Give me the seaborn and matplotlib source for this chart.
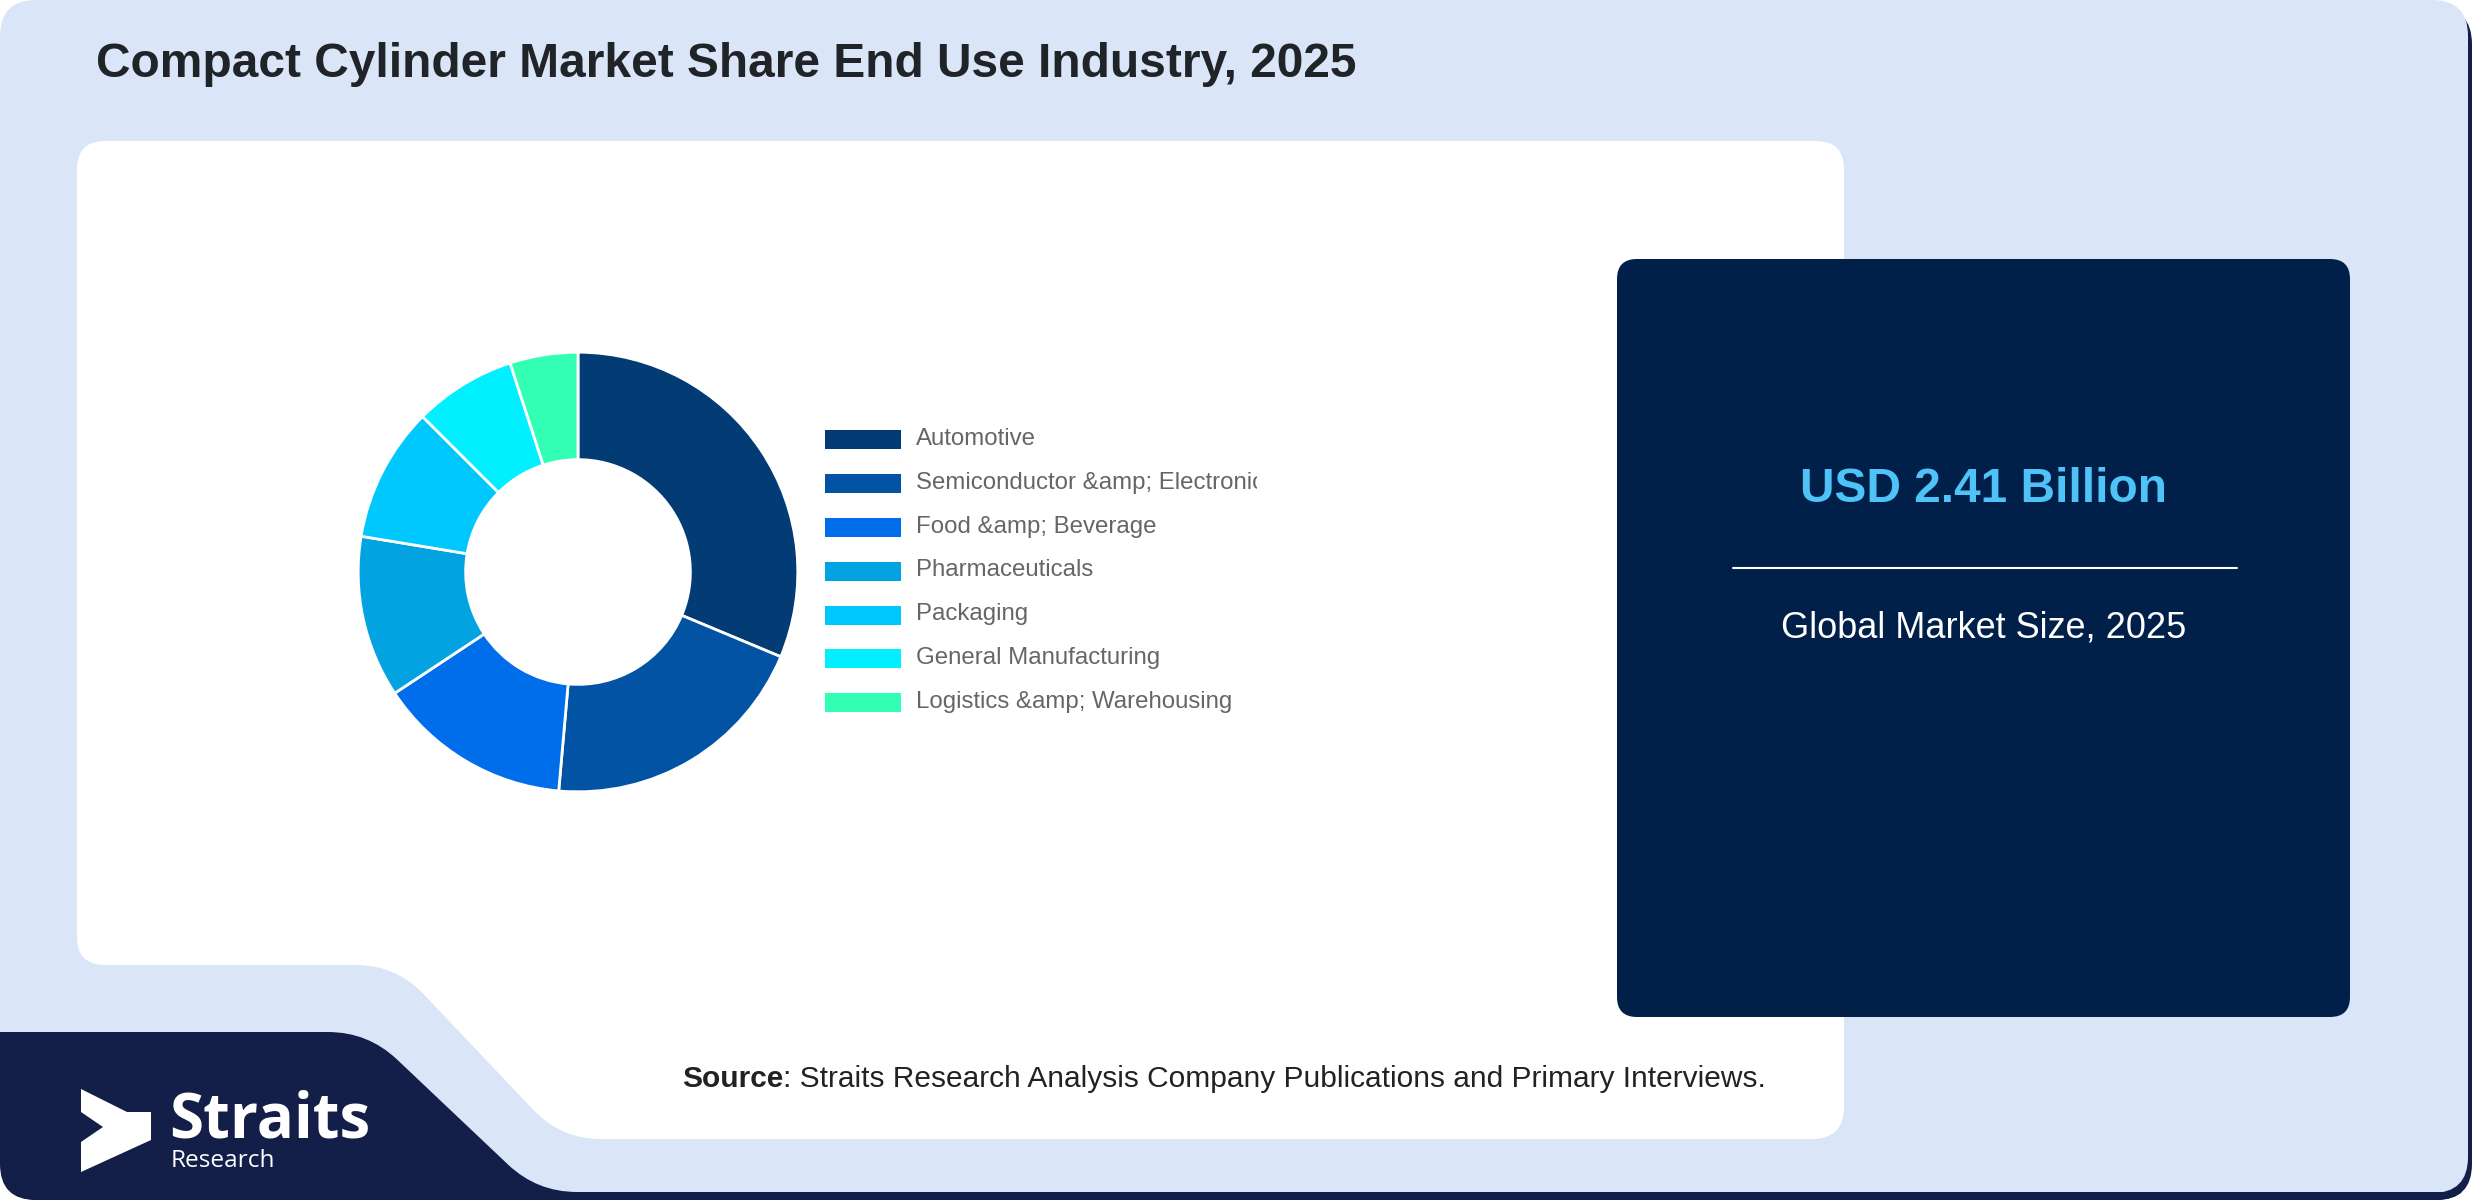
import numpy as np
import matplotlib
matplotlib.use("Agg")
import matplotlib.pyplot as plt
import seaborn as sns
from matplotlib.path import Path
from matplotlib.patches import PathPatch, Rectangle

# data
segments = ["Automotive", "Semiconductor &amp; Electronics", "Food &amp; Beverage",
            "Pharmaceuticals", "Packaging", "General Manufacturing",
            "Logistics &amp; Warehousing"]
shares = [31.3, 20.1, 14.3, 11.9, 9.9, 7.5, 5.0]
seg_colors = ["#033B75", "#0353A4", "#006EEA", "#02A3E0", "#00C8FF", "#00F0FF", "#33FFB4"]

title = "Compact Cylinder Market Share End Use Industry, 2025"
market_size = "USD 2.41 Billion"
market_label = "Global Market Size, 2025"
source_head = "Source"
source_rest = ": Straits Research Analysis Company Publications and Primary Interviews."

sns.set_theme(style="white")
plt.rcParams["font.family"] = ["Liberation Sans", "DejaVu Sans"]
palette = sns.color_palette(seg_colors)

W, H = 2480, 1200
fig = plt.figure(figsize=(W / 100, H / 100), dpi=100, facecolor="white")

bg = fig.add_axes([0, 0, 1, 1])
bg.set_xlim(0, W)
bg.set_ylim(H, 0)
bg.axis("off")


def rounded(pts, r):
    # polygon with rounded corners (quadratic curves)
    verts, codes = [], []
    n = len(pts)
    for i in range(n):
        p0 = np.array(pts[i - 1], float)
        p1 = np.array(pts[i], float)
        p2 = np.array(pts[(i + 1) % n], float)
        v1, v2 = p0 - p1, p2 - p1
        l1, l2 = np.hypot(*v1), np.hypot(*v2)
        rad = r[i] if np.iterable(r) else r
        a = p1 + v1 / l1 * min(rad, l1 / 2)
        b = p1 + v2 / l2 * min(rad, l2 / 2)
        verts += [a, p1, b]
        codes += [Path.MOVETO if i == 0 else Path.LINETO, Path.CURVE3, Path.CURVE3]
    verts.append(verts[0])
    codes.append(Path.CLOSEPOLY)
    return Path(verts, codes)


def box(x0, y0, x1, y1):
    return [(x0, y0), (x1, y0), (x1, y1), (x0, y1)]


navy_logo = "#141F49"
light_bg = "#DAE6F8"

# background card + shadow
bg.add_patch(PathPatch(rounded(box(2, 8, 2472, 1200), 36), fc=navy_logo, ec="none"))
card = PathPatch(rounded(box(0, 0, 2468, 1193), 36), fc=light_bg, ec="none")
bg.add_patch(card)

# dark band with the logo (bottom left)
clip = PathPatch(rounded(box(0, 0, 2472, 1200), 36), transform=bg.transData)
band = PathPatch(rounded([(-40, 1032), (368, 1032), (537, 1192), (2520, 1192),
                          (2520, 1240), (-40, 1240)], [0, 40, 40, 0, 0, 0]),
                 fc=navy_logo, ec="none")
bg.add_patch(band)
band.set_clip_path(clip)

# white panel
bg.add_patch(PathPatch(rounded([(77, 141), (1844, 141), (1844, 1139), (561, 1139),
                                (396, 965), (77, 965)], [28, 28, 32, 40, 40, 28]),
                       fc="white", ec="none"))

# market size box
bg.add_patch(PathPatch(rounded(box(1617, 259, 2350, 1017), 20), fc="#012049", ec="none"))
bg.text(1984, 502, market_size, ha="center", va="baseline", fontsize=34.5,
        fontweight="bold", color="#4FC3F7")
bg.plot([1733, 2237], [568, 568], color="white", lw=1.5)
bg.text(1984, 638, market_label, ha="center", va="baseline", fontsize=26, color="white")

# title
bg.text(96, 77, title, ha="left", va="baseline", fontsize=34.5, fontweight="bold",
        color="#202328")

# source line
t1 = bg.text(682, 1087, source_head, ha="left", va="baseline", fontsize=21.5,
             fontweight="bold", color="#222222")
bg.annotate(source_rest, xy=(1, 0), xycoords=t1, ha="left", va="bottom",
            fontsize=21.5, color="#222222")

# logo
bg.add_patch(PathPatch(Path([(81, 1089), (127, 1112), (151, 1112), (151, 1140), (81, 1172),
                             (81, 1142), (103, 1127), (81, 1112), (81, 1089)]),
                       fc="white", ec="none"))
bg.text(169, 1138, "Straits", ha="left", va="baseline", fontsize=44.5, fontweight="bold",
        color="white", family=["Open Sans", "DejaVu Sans"])
bg.text(171, 1167, "Research", ha="left", va="baseline", fontsize=17.6,
        color="white", family=["Open Sans", "DejaVu Sans"])

# donut
cx, cy, r_out, r_in = 578, 572, 222, 113.5
pa = fig.add_axes([(cx - r_out) / W, 1 - (cy + r_out) / H, 2 * r_out / W, 2 * r_out / H])
pa.pie(shares, colors=palette, startangle=90, counterclock=False, radius=1,
       wedgeprops=dict(width=(r_out - r_in) / r_out, edgecolor="white", linewidth=2))
pa.set_xlim(-1.01, 1.01)
pa.set_ylim(-1.01, 1.01)
pa.set_aspect("equal")

# legend (clipped on the right like the original)
lx0, lx1, ly0, ly1 = 820, 1257, 410, 730
lg = fig.add_axes([lx0 / W, 1 - ly1 / H, (lx1 - lx0) / W, (ly1 - ly0) / H])
lg.set_xlim(lx0, lx1)
lg.set_ylim(ly1, ly0)
lg.axis("off")
for i, (lab, col) in enumerate(zip(segments, palette)):
    y = 440 + i * 43.8
    lg.add_patch(Rectangle((825, y - 9.5), 76, 19, fc=col, ec="none"))
    t = lg.text(916, y - 1, lab, ha="left", va="center", fontsize=17.3,
                color="#666666", clip_on=True)
    t.set_clip_box(lg.bbox)

fig.savefig("out.png", dpi=100, facecolor="white")
